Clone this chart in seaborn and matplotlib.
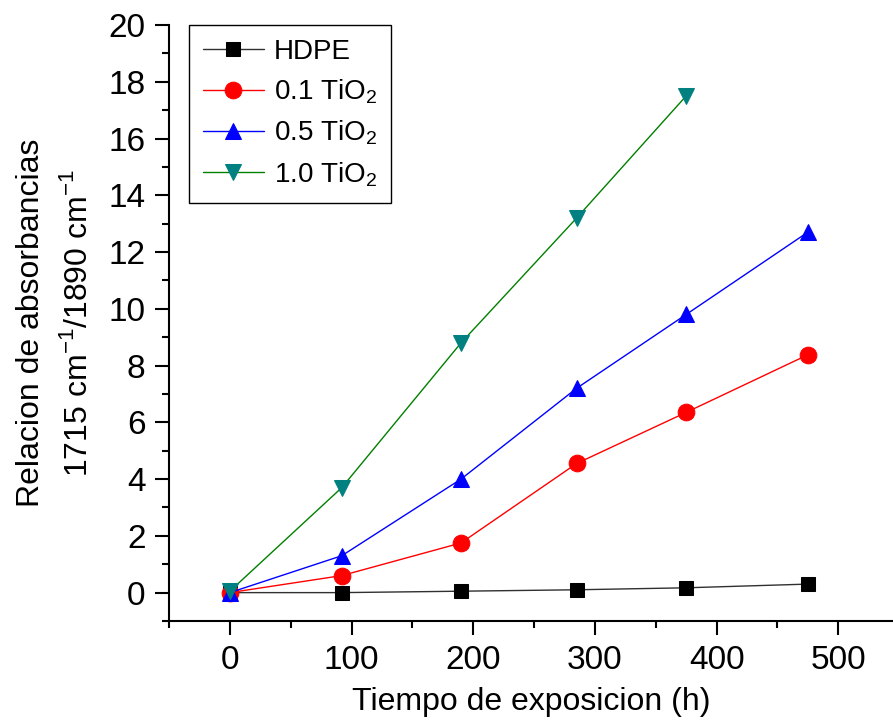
import matplotlib
matplotlib.use("Agg")
import matplotlib.pyplot as plt
import seaborn as sns
import pandas as pd
from matplotlib.ticker import MultipleLocator

sns.set_style("ticks")
plt.rcParams['font.family'] = ['Liberation Sans', 'DejaVu Sans']
plt.rcParams['mathtext.fontset'] = 'custom'
plt.rcParams['mathtext.rm'] = 'Liberation Sans'
plt.rcParams['text.color'] = 'black'
plt.rcParams['axes.labelcolor'] = 'black'
plt.rcParams['xtick.color'] = 'black'
plt.rcParams['ytick.color'] = 'black'

time_h = [0, 92, 190, 285, 375, 475]
hdpe = [0.0, 0.0, 0.05, 0.1, 0.17, 0.3]
tio2_01 = [0.0, 0.6, 1.75, 4.55, 6.35, 8.38]
tio2_05 = [0.0, 1.3, 4.0, 7.2, 9.8, 12.7]
time_h_10 = [0, 92, 190, 285, 375]
tio2_10 = [0.05, 3.7, 8.8, 13.2, 17.5]

labels = ["HDPE", "0.1 TiO$_2$", "0.5 TiO$_2$", "1.0 TiO$_2$"]
line_colors = ["#303030", "#ff0000", "#0000ff", "#008000"]
marker_colors = ["#000000", "#ff0000", "#0000ff", "#008080"]
markers = ["s", "o", "^", "v"]

series = [(time_h, hdpe), (time_h, tio2_01), (time_h, tio2_05), (time_h_10, tio2_10)]

fig = plt.figure(figsize=(8.93, 7.26), dpi=100)
ax = fig.add_axes([169/893, (726-621)/726, (893-169)/893, (621-25)/726])

for (xs, ys), lab, lc, mc, mk in zip(series, labels, line_colors, marker_colors, markers):
    df = pd.DataFrame({"x": xs, "y": ys})
    sns.lineplot(data=df, x="x", y="y", ax=ax, color=lc, linewidth=1.0,
                 marker=mk, markersize=12 if mk != "s" else 10,
                 markerfacecolor=mc, markeredgecolor=mc, label=lab)

ax.set_xlim(-50, 545)
ax.set_ylim(-1, 20)
ax.set_xticks([0, 100, 200, 300, 400, 500])
ax.set_yticks(list(range(0, 21, 2)))
ax.xaxis.set_minor_locator(MultipleLocator(50))
ax.yaxis.set_minor_locator(MultipleLocator(1))
ax.tick_params(axis='both', which='major', direction='out', length=10, width=1.5,
               labelsize=24, pad=7, color='black', labelcolor='black')
ax.tick_params(axis='both', which='minor', direction='out', length=5, width=1.5, color='black')
for s in ['top', 'right']:
    ax.spines[s].set_visible(False)
for s in ['left', 'bottom']:
    ax.spines[s].set_linewidth(1.5)
    ax.spines[s].set_color('black')

ax.set_xlabel("Tiempo de exposicion (h)", fontsize=23, labelpad=8)
ax.set_ylabel("Relacion de absorbancias\n1715 cm$^{-1}$/1890 cm$^{-1}$", fontsize=23,
              labelpad=10, linespacing=1.65)

leg = ax.legend(loc='upper left', bbox_to_anchor=(20/724, 1.0), borderaxespad=0,
                fontsize=20, frameon=True, fancybox=False, edgecolor='black', framealpha=1,
                handlelength=2.2, handletextpad=0.35, borderpad=0.5, labelspacing=0.45)
leg.get_frame().set_linewidth(1.0)

fig.savefig("out.png", dpi=100)
